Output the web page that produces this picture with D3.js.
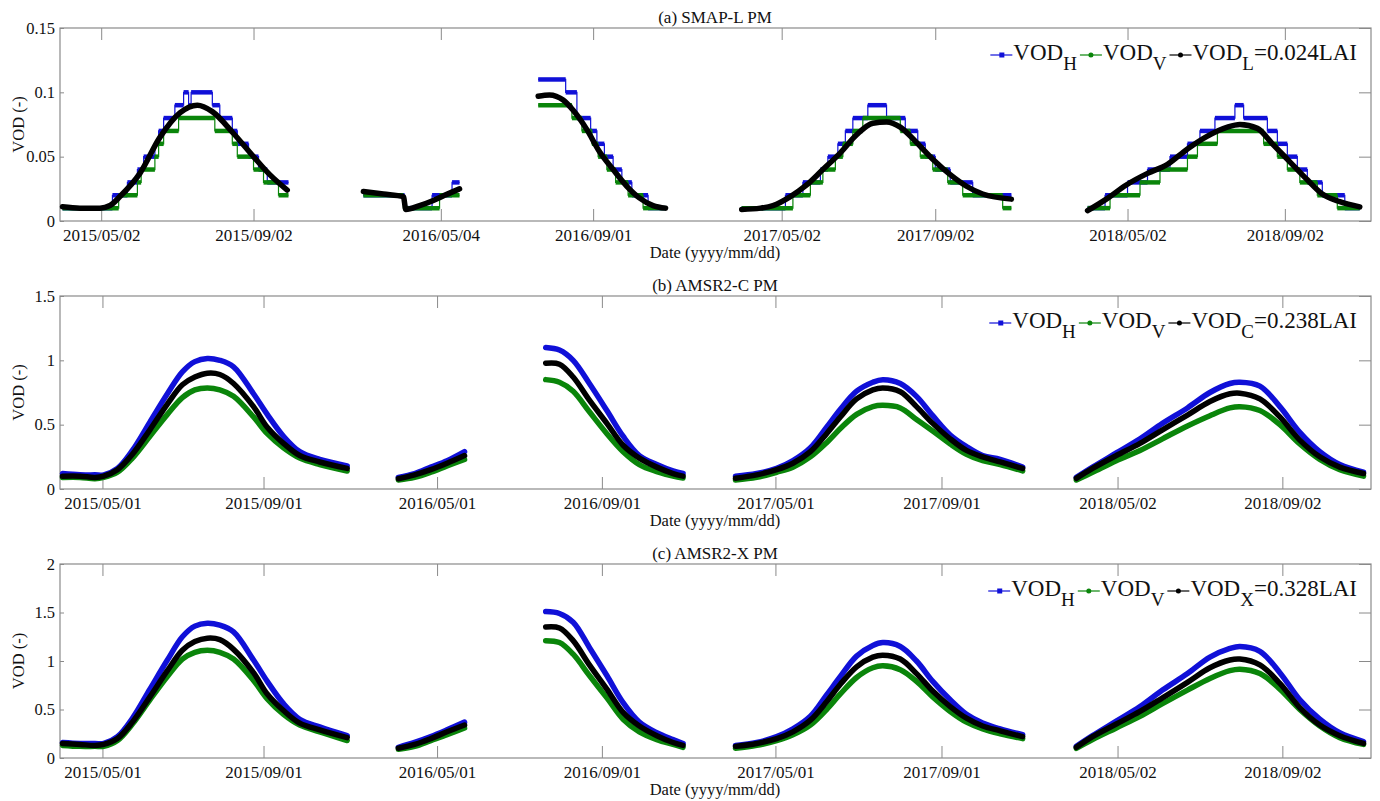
<!DOCTYPE html>
<html>
<head>
<meta charset="utf-8">
<script src="https://cdn.jsdelivr.net/npm/d3@7"></script>
<style>
  body { margin: 0; background: #fff; }
  text { font-family: "Liberation Serif", "Times New Roman", serif; fill: #111; }
</style>
</head>
<body>
<div id="chart"></div>
<script>
// x is a running day index over the five growing-season segments (gaps = no data)

// tick labels
const aTickIdx = [33, 155, 305, 427, 578, 701, 855, 981]
const aTickLabels = ["2015/05/02", "2015/09/02", "2016/05/04", "2016/09/01", "2017/05/02", "2017/09/02", "2018/05/02", "2018/09/02"]
const bcTickIdx = [34, 163, 302, 434, 573, 706, 847, 979]
const bcTickLabels = ["2015/05/01", "2015/09/01", "2016/05/01", "2016/09/01", "2017/05/01", "2017/09/01", "2018/05/02", "2018/09/02"]
const aYTicks = [0, 0.05, 0.1, 0.15]
const bYTicks = [0, 0.5, 1, 1.5]
const cYTicks = [0, 0.5, 1, 1.5, 2]

// (a) SMAP-L : VOD_L smooth, VOD_H / VOD_V quantised steps (idx has one extra entry = segment end)
const aLIdx = [
  [2, 16, 32, 40, 48, 64, 80, 96, 110, 122, 139, 155, 168, 182],
  [243, 259, 275, 277, 288, 299, 308, 320],
  [383, 392, 403, 411, 422, 432, 443, 454, 464, 475, 485],
  [546, 561, 571, 585, 598, 611, 625, 638, 651, 662, 673, 686, 699, 713, 726, 739, 762],
  [823, 838, 854, 871, 887, 903, 919, 935, 945, 959, 971, 985, 999, 1011, 1025, 1041]
]
const aLVal = [
  [0.011, 0.010, 0.010, 0.012, 0.019, 0.037, 0.065, 0.084, 0.090, 0.085, 0.068, 0.050, 0.036, 0.024],
  [0.023, 0.021, 0.019, 0.009, 0.012, 0.016, 0.020, 0.025],
  [0.097, 0.098, 0.094, 0.086, 0.071, 0.054, 0.040, 0.027, 0.018, 0.012, 0.010],
  [0.009, 0.010, 0.012, 0.019, 0.028, 0.040, 0.053, 0.067, 0.076, 0.077, 0.073, 0.061, 0.048, 0.036, 0.027, 0.021, 0.017],
  [0.008, 0.017, 0.028, 0.037, 0.044, 0.056, 0.066, 0.073, 0.075, 0.072, 0.060, 0.046, 0.032, 0.021, 0.015, 0.011]
]
const aHIdx = [
  [2, 42, 54, 62, 67, 76, 79, 83, 92, 99, 103, 105, 122, 128, 138, 142, 151, 159, 166, 183],
  [243, 276, 298, 314, 320],
  [383, 405, 414, 425, 430, 436, 443, 450, 458, 471, 485],
  [546, 581, 595, 609, 615, 623, 629, 635, 647, 662, 677, 687, 693, 701, 713, 731, 762],
  [823, 837, 855, 871, 889, 903, 913, 925, 941, 948, 967, 975, 983, 991, 999, 1011, 1029, 1041]
]
const aHVal = [
  [0.01, 0.02, 0.03, 0.04, 0.05, 0.06, 0.07, 0.08, 0.09, 0.10, 0.09, 0.10, 0.09, 0.08, 0.07, 0.06, 0.05, 0.04, 0.03],
  [0.02, 0.01, 0.02, 0.03],
  [0.11, 0.10, 0.08, 0.07, 0.06, 0.05, 0.04, 0.03, 0.02, 0.01],
  [0.01, 0.02, 0.03, 0.04, 0.05, 0.06, 0.07, 0.08, 0.09, 0.08, 0.07, 0.06, 0.05, 0.04, 0.03, 0.02],
  [0.01, 0.02, 0.03, 0.04, 0.05, 0.06, 0.07, 0.08, 0.09, 0.08, 0.07, 0.06, 0.05, 0.04, 0.03, 0.02, 0.01]
]
const aVIdx = [
  [2, 47, 62, 65, 76, 79, 83, 95, 124, 138, 142, 155, 163, 175, 183],
  [243, 275, 304, 320],
  [383, 410, 418, 426, 431, 438, 445, 455, 467, 485],
  [546, 587, 601, 611, 621, 627, 635, 643, 673, 681, 689, 699, 711, 723, 755, 762],
  [823, 841, 865, 881, 903, 911, 927, 964, 975, 983, 993, 1007, 1023, 1041]
]
const aVVal = [
  [0.01, 0.02, 0.03, 0.04, 0.05, 0.06, 0.07, 0.08, 0.07, 0.06, 0.05, 0.04, 0.03, 0.02],
  [0.02, 0.01, 0.02],
  [0.09, 0.08, 0.07, 0.06, 0.05, 0.04, 0.03, 0.02, 0.01],
  [0.01, 0.02, 0.03, 0.04, 0.05, 0.06, 0.07, 0.08, 0.07, 0.06, 0.05, 0.04, 0.03, 0.02, 0.01],
  [0.01, 0.02, 0.03, 0.04, 0.05, 0.06, 0.07, 0.06, 0.05, 0.04, 0.03, 0.02, 0.01]
]

// (b) AMSR2-C and (c) AMSR2-X share the sample days
const bcIdx = [
  [2, 16, 28, 35, 46, 58, 72, 86, 98, 108, 118, 128, 139, 155, 166, 179, 192, 208, 230],
  [271, 284, 297, 310, 324],
  [389, 400, 411, 424, 438, 451, 464, 478, 491, 499],
  [541, 558, 574, 587, 601, 614, 625, 638, 651, 659, 673, 686, 699, 713, 726, 739, 753, 771],
  [814, 827, 846, 865, 883, 903, 921, 937, 945, 961, 977, 993, 1009, 1025, 1044]
]
const bHVal = [
  [0.12, 0.11, 0.11, 0.11, 0.16, 0.30, 0.52, 0.74, 0.91, 0.99, 1.015, 1.00, 0.95, 0.74, 0.58, 0.41, 0.29, 0.23, 0.18],
  [0.09, 0.12, 0.17, 0.22, 0.29],
  [1.10, 1.08, 1.00, 0.82, 0.61, 0.41, 0.26, 0.19, 0.14, 0.12],
  [0.10, 0.12, 0.16, 0.22, 0.32, 0.48, 0.62, 0.76, 0.83, 0.85, 0.82, 0.72, 0.57, 0.42, 0.33, 0.26, 0.23, 0.17],
  [0.09, 0.17, 0.28, 0.39, 0.51, 0.63, 0.75, 0.82, 0.83, 0.80, 0.64, 0.44, 0.29, 0.19, 0.13]
]
const bVVal = [
  [0.09, 0.09, 0.08, 0.09, 0.13, 0.24, 0.41, 0.58, 0.71, 0.77, 0.785, 0.77, 0.72, 0.56, 0.43, 0.32, 0.24, 0.19, 0.14],
  [0.07, 0.09, 0.13, 0.18, 0.23],
  [0.85, 0.83, 0.76, 0.60, 0.43, 0.29, 0.19, 0.135, 0.10, 0.085],
  [0.07, 0.09, 0.13, 0.17, 0.25, 0.36, 0.47, 0.58, 0.64, 0.65, 0.63, 0.54, 0.45, 0.35, 0.27, 0.22, 0.19, 0.14],
  [0.07, 0.13, 0.22, 0.30, 0.39, 0.49, 0.57, 0.63, 0.64, 0.61, 0.50, 0.35, 0.23, 0.15, 0.10]
]
const bCVal = [
  [0.10, 0.10, 0.09, 0.10, 0.15, 0.27, 0.46, 0.66, 0.81, 0.87, 0.90, 0.89, 0.82, 0.64, 0.48, 0.355, 0.26, 0.21, 0.16],
  [0.08, 0.11, 0.15, 0.20, 0.26],
  [0.977, 0.97, 0.87, 0.69, 0.51, 0.34, 0.24, 0.17, 0.12, 0.10],
  [0.083, 0.11, 0.15, 0.20, 0.29, 0.43, 0.56, 0.70, 0.77, 0.785, 0.756, 0.64, 0.51, 0.39, 0.30, 0.25, 0.21, 0.16],
  [0.083, 0.16, 0.26, 0.355, 0.46, 0.575, 0.68, 0.74, 0.745, 0.70, 0.56, 0.38, 0.25, 0.17, 0.12]
]
const cHVal = [
  [0.16, 0.15, 0.15, 0.15, 0.22, 0.41, 0.71, 1.01, 1.25, 1.36, 1.39, 1.37, 1.30, 1.01, 0.79, 0.56, 0.40, 0.32, 0.23],
  [0.11, 0.16, 0.22, 0.29, 0.37],
  [1.51, 1.49, 1.40, 1.14, 0.85, 0.57, 0.37, 0.26, 0.19, 0.15],
  [0.13, 0.16, 0.22, 0.30, 0.43, 0.65, 0.84, 1.05, 1.16, 1.19, 1.15, 1.00, 0.79, 0.60, 0.45, 0.36, 0.30, 0.24],
  [0.12, 0.23, 0.38, 0.53, 0.70, 0.87, 1.04, 1.13, 1.15, 1.10, 0.88, 0.60, 0.40, 0.26, 0.17]
]
const cVVal = [
  [0.13, 0.12, 0.12, 0.12, 0.18, 0.35, 0.60, 0.84, 1.02, 1.09, 1.11, 1.09, 1.02, 0.80, 0.61, 0.45, 0.34, 0.27, 0.18],
  [0.09, 0.12, 0.18, 0.24, 0.31],
  [1.21, 1.19, 1.07, 0.85, 0.62, 0.40, 0.27, 0.19, 0.14, 0.11],
  [0.10, 0.13, 0.18, 0.24, 0.34, 0.50, 0.66, 0.83, 0.93, 0.95, 0.91, 0.79, 0.63, 0.48, 0.37, 0.30, 0.25, 0.20],
  [0.10, 0.19, 0.31, 0.43, 0.56, 0.70, 0.82, 0.90, 0.915, 0.87, 0.71, 0.50, 0.33, 0.21, 0.14]
]
const cXVal = [
  [0.15, 0.14, 0.13, 0.14, 0.20, 0.37, 0.63, 0.90, 1.11, 1.20, 1.235, 1.22, 1.12, 0.88, 0.66, 0.49, 0.36, 0.29, 0.21],
  [0.10, 0.14, 0.20, 0.27, 0.34],
  [1.35, 1.34, 1.21, 0.96, 0.71, 0.47, 0.33, 0.23, 0.16, 0.13],
  [0.12, 0.15, 0.20, 0.27, 0.39, 0.58, 0.76, 0.94, 1.04, 1.06, 1.02, 0.87, 0.69, 0.53, 0.41, 0.33, 0.28, 0.22],
  [0.11, 0.22, 0.35, 0.48, 0.62, 0.78, 0.93, 1.01, 1.02, 0.96, 0.77, 0.52, 0.34, 0.23, 0.15]
]

const blue = "#1010d8"
const green = "#0a850a"
const black = "#000"

const svgWidth = 1380
const svgHeight = 801
let svg = d3.select("#chart").append("svg")
  .attr("width", svgWidth)
  .attr("height", svgHeight)

let x = d3.scaleLinear().domain([0, 1050]).range([60, 1371])

let panels = [
  { top: 28, bottom: 221, ymax: 0.15, yTicks: aYTicks, tickIdx: aTickIdx, tickLabels: aTickLabels,
    title: "(a) SMAP-L PM", sub: "L", suffix: "=0.024LAI" },
  { top: 296, bottom: 489, ymax: 1.5, yTicks: bYTicks, tickIdx: bcTickIdx, tickLabels: bcTickLabels,
    title: "(b) AMSR2-C PM", sub: "C", suffix: "=0.238LAI",
    H: bHVal, V: bVVal, L: bCVal },
  { top: 564, bottom: 758, ymax: 2, yTicks: cYTicks, tickIdx: bcTickIdx, tickLabels: bcTickLabels,
    title: "(c) AMSR2-X PM", sub: "X", suffix: "=0.328LAI",
    H: cHVal, V: cVVal, L: cXVal }
]

function zipSeg(idx, val) {
  return val.map((v, i) => [idx[i], v])
}

function styleAxis(g) {
  g.select(".domain").remove()
  g.selectAll(".tick line").attr("stroke", "#8a8a8a").attr("stroke-width", 1)
  g.selectAll(".tick text").attr("fill", "#111")
    .style("font-family", '"Liberation Serif", "Times New Roman", serif')
}

function drawPanel(p, k) {
  let y = d3.scaleLinear().domain([0, p.ymax]).range([p.bottom, p.top])
  let g = svg.append("g")

  // axes (ticks inside the box, MATLAB style)
  let xAxis = g.append("g")
    .attr("transform", `translate(0, ${p.bottom})`)
    .call(d3.axisBottom(x).tickValues(p.tickIdx).tickFormat((d, i) => p.tickLabels[i])
      .tickSizeInner(-12).tickSizeOuter(0).tickPadding(8))
  styleAxis(xAxis)
  xAxis.selectAll(".tick text").attr("font-size", 17)

  let xTop = g.append("g")
    .attr("transform", `translate(0, ${p.top})`)
    .call(d3.axisTop(x).tickValues(p.tickIdx).tickFormat("").tickSizeInner(-12).tickSizeOuter(0))
  styleAxis(xTop)

  let yAxis = g.append("g")
    .attr("transform", "translate(60, 0)")
    .call(d3.axisLeft(y).tickValues(p.yTicks).tickFormat(d => d).tickSizeInner(-4).tickSizeOuter(0).tickPadding(5))
  styleAxis(yAxis)
  yAxis.selectAll(".tick text").attr("font-size", 16.5)

  let yRight = g.append("g")
    .attr("transform", "translate(1371, 0)")
    .call(d3.axisRight(y).tickValues(p.yTicks).tickFormat("").tickSizeInner(-12).tickSizeOuter(0))
  styleAxis(yRight)

  g.append("rect")
    .attr("x", 60).attr("y", p.top)
    .attr("width", 1311).attr("height", p.bottom - p.top)
    .attr("fill", "none").attr("stroke", "#8a8a8a").attr("stroke-width", 1.2)

  // labels
  g.append("text")
    .attr("x", 715).attr("y", p.top - 5)
    .attr("text-anchor", "middle").attr("font-size", 17)
    .text(p.title)
  g.append("text")
    .attr("x", 715).attr("y", p.bottom + 37)
    .attr("text-anchor", "middle").attr("font-size", 16.5)
    .text("Date (yyyy/mm/dd)")
  g.append("text")
    .attr("transform", `translate(24, ${(p.top + p.bottom) / 2}) rotate(-90)`)
    .attr("text-anchor", "middle").attr("font-size", 16.5)
    .text("VOD (-)")

  let smooth = d3.line()
    .x(d => x(d[0]))
    .y(d => y(d[1]))
    .curve(d3.curveCatmullRom.alpha(0.5))

  let data = g.append("g")

  if (k === 0) {
    // quantised H and V retrievals: thin step line + thick runs of daily markers
    let stepLine = d3.line().x(d => x(d[0])).y(d => y(d[1])).curve(d3.curveStepAfter)
    const steps = [[aHIdx, aHVal, blue], [aVIdx, aVVal, green]]
    steps.forEach(([idxs, vals, col]) => {
      idxs.forEach((idx, s) => {
        let pts = zipSeg(idx, vals[s])
        pts.push([idx[idx.length - 1], vals[s][vals[s].length - 1]])
        data.append("path")
          .attr("d", stepLine(pts))
          .attr("fill", "none").attr("stroke", col).attr("stroke-width", 1.2)
        data.selectAll(null)
          .data(vals[s])
          .enter()
          .append("line")
          .attr("x1", (v, i) => x(idx[i]))
          .attr("x2", (v, i) => x(idx[i + 1]))
          .attr("y1", v => y(v))
          .attr("y2", v => y(v))
          .attr("stroke", col).attr("stroke-width", 4.5)
      })
    })
    aLIdx.forEach((idx, s) => {
      data.append("path")
        .attr("d", d3.line().x(d => x(d[0])).y(d => y(d[1])).curve(d3.curveMonotoneX)(zipSeg(idx, aLVal[s])))
        .attr("fill", "none").attr("stroke", black)
        .attr("stroke-width", 5.5).attr("stroke-linecap", "round").attr("stroke-linejoin", "round")
    })
  } else {
    const series = [[p.H, blue], [p.V, green], [p.L, black]]
    series.forEach(([vals, col]) => {
      bcIdx.forEach((idx, s) => {
        data.append("path")
          .attr("d", smooth(zipSeg(idx, vals[s])))
          .attr("fill", "none").attr("stroke", col)
          .attr("stroke-width", 5.5).attr("stroke-linecap", "round").attr("stroke-linejoin", "round")
      })
    })
  }

  // legend, right aligned inside the box
  let leg = g.append("g")
  let base = p.top + 32
  let cx = 0
  const items = [[blue, "H", "", "square"], [green, "V", "", "dot"], [black, p.sub, p.suffix, "dot"]]
  items.forEach(([col, sub, suffix, mark]) => {
    leg.append("line")
      .attr("x1", cx).attr("x2", cx + 22)
      .attr("y1", base - 5).attr("y2", base - 5)
      .attr("stroke", col).attr("stroke-width", 1.2)
    if (mark === "square") {
      leg.append("rect").attr("x", cx + 9).attr("y", base - 7.5).attr("width", 5).attr("height", 5).attr("fill", col)
    } else {
      leg.append("circle").attr("cx", cx + 11).attr("cy", base - 5).attr("r", 2.5).attr("fill", col)
    }
    let t = leg.append("text")
      .attr("x", cx + 23).attr("y", base)
      .attr("font-size", 23)
    t.append("tspan").text("VOD")
    t.append("tspan").attr("dy", 10).attr("font-size", 19).text(sub)
    if (suffix) t.append("tspan").attr("dy", -10).text(suffix)
    cx += 23 + t.node().getComputedTextLength() + 3
  })
  leg.attr("transform", `translate(${1357 - (cx - 3)}, 0)`)
}

panels.forEach((p, k) => drawPanel(p, k))
</script>
</body>
</html>
